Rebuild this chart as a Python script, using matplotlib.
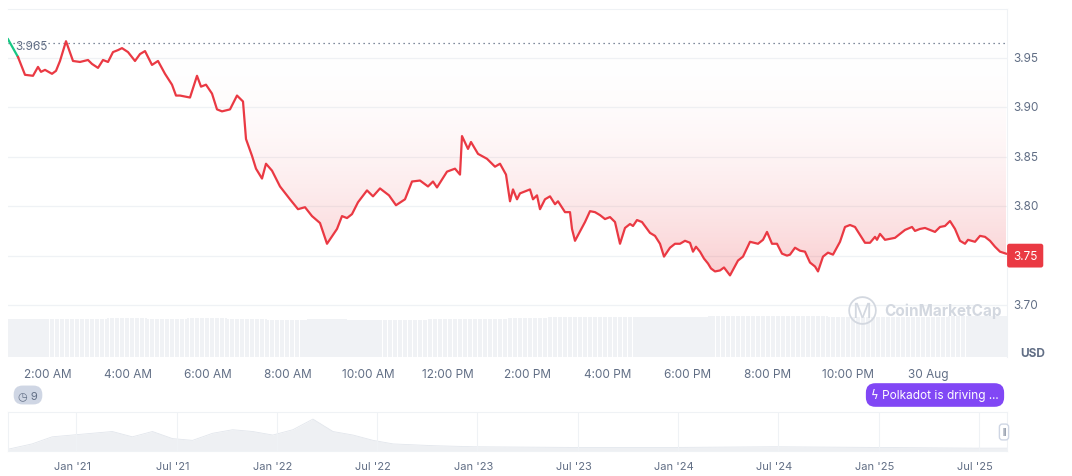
import numpy as np
import matplotlib
matplotlib.use("Agg")
import matplotlib.pyplot as plt
from matplotlib.patches import Polygon
from matplotlib.colors import LinearSegmentedColormap

hours = [0,.25,.425,.625,.75,.825,.925,1.1,1.2,1.3,1.45,1.625,1.8,2.0,2.1,2.25,2.375,2.5,2.625,2.75,2.85,3.0,3.175,3.3,3.425,3.6,3.75,3.925,4.1,4.2,4.3,4.55,4.725,4.825,4.95,5.1,5.225,5.35,5.55,5.725,5.875,5.95,6.1,6.2,6.35,6.45,6.6,6.8,7.05,7.25,7.425,7.6,7.8,7.975,8.125,8.225,8.35,8.475,8.6,8.75,8.975,9.125,9.3,9.525,9.7,9.925,10.1,10.3,10.5,10.625,10.725,10.975,11.175,11.3,11.35,11.5,11.575,11.75,11.975,12.175,12.3,12.45,12.55,12.625,12.725,12.8,13.05,13.125,13.225,13.3,13.425,13.55,13.675,13.75,13.925,14.05,14.1,14.175,14.425,14.55,14.675,14.8,14.925,15.05,15.175,15.3,15.425,15.55,15.625,15.725,15.85,16.05,16.175,16.3,16.4,16.55,16.675,16.8,16.925,17.05,17.125,17.2,17.3,17.4,17.5,17.575,17.675,17.8,17.9,18.05,18.25,18.375,18.55,18.75,18.875,18.975,19.1,19.225,19.35,19.475,19.55,19.675,19.8,19.925,20.05,20.175,20.25,20.375,20.5,20.625,20.8,20.925,21.05,21.175,21.425,21.55,21.675,21.725,21.8,21.925,22.175,22.3,22.425,22.6,22.675,22.8,22.925,23.05,23.175,23.3,23.425,23.55,23.675,23.8,23.925,24.0,24.175,24.3,24.425,24.55,24.675,24.8,24.95]
prices = [3.969,3.951,3.933,3.932,3.941,3.936,3.938,3.934,3.937,3.947,3.967,3.947,3.946,3.948,3.944,3.940,3.948,3.946,3.956,3.958,3.960,3.956,3.947,3.954,3.957,3.943,3.947,3.934,3.923,3.912,3.912,3.910,3.932,3.921,3.923,3.914,3.898,3.896,3.898,3.912,3.906,3.868,3.851,3.838,3.828,3.843,3.836,3.820,3.807,3.797,3.799,3.790,3.783,3.762,3.771,3.777,3.790,3.788,3.792,3.804,3.816,3.810,3.818,3.811,3.801,3.807,3.825,3.826,3.820,3.825,3.819,3.835,3.838,3.832,3.871,3.858,3.865,3.853,3.848,3.840,3.843,3.832,3.805,3.817,3.807,3.813,3.817,3.807,3.811,3.797,3.807,3.810,3.802,3.805,3.794,3.794,3.777,3.765,3.784,3.795,3.794,3.791,3.787,3.789,3.784,3.762,3.778,3.782,3.780,3.786,3.784,3.773,3.770,3.762,3.749,3.758,3.762,3.762,3.765,3.763,3.754,3.759,3.754,3.747,3.742,3.737,3.734,3.735,3.738,3.730,3.745,3.749,3.764,3.762,3.766,3.774,3.762,3.762,3.752,3.750,3.751,3.758,3.755,3.754,3.743,3.739,3.734,3.749,3.753,3.751,3.764,3.779,3.781,3.779,3.763,3.763,3.769,3.766,3.772,3.766,3.768,3.772,3.776,3.779,3.775,3.777,3.778,3.776,3.774,3.779,3.780,3.785,3.777,3.765,3.762,3.766,3.764,3.770,3.769,3.765,3.759,3.754,3.752]
ref_price = 3.965
last_price = 3.75
yticks = [3.70, 3.80, 3.85, 3.90, 3.95]
grid_y = [3.70, 3.75, 3.80, 3.85, 3.90, 3.95]
xtick_labels = ["2:00 AM","4:00 AM","6:00 AM","8:00 AM","10:00 AM","12:00 PM","2:00 PM","4:00 PM","6:00 PM","8:00 PM","10:00 PM","30 Aug"]
xtick_hours = [1,3,5,7,9,11,13,15,17,19,21,23]
vol_hours = list(range(26))
volume = [38,38,38,39,38,39,38,37,38,37,37,38,38,39,40,40,40,40,41,41,41,40,40,40,41,41]
nav_labels = ["Jan '21","Jul '21","Jan '22","Jul '22","Jan '23","Jul '23","Jan '24","Jul '24","Jan '25","Jul '25"]
nav_x = [0,.5,1,1.5,2,2.5,3,3.5,4,4.5]
nav_t = [-0.32,-0.2,-0.1,0,0.1,0.2,0.3,0.4,0.5,0.6,0.7,0.8,0.9,1.0,1.1,1.2,1.3,1.4,1.5,1.6,1.8,2.0,2.5,3.0,3.5,4.0,4.5,4.66]
nav_v = [0.05,0.2,0.4,0.45,0.5,0.55,0.4,0.55,0.35,0.3,0.5,0.6,0.55,0.45,0.6,0.9,0.55,0.45,0.3,0.2,0.15,0.12,0.1,0.1,0.12,0.1,0.08,0.08]

W, H = 1072, 477
fig = plt.figure(figsize=(W/100, H/100), dpi=100)
plt.rcParams['font.family'] = ['Inter', 'DejaVu Sans']
def fr(x0, y0, x1, y1):
    return [x0/W, 1-y1/H, (x1-x0)/W, (y1-y0)/H]

grey = '#616e85'
ax = fig.add_axes(fr(8, 10, 1007, 358))
ymin, ymax = 3.6474, 3.9996
xmax = 24.975
ax.set_xlim(0, xmax); ax.set_ylim(ymin, ymax)
for s in ax.spines.values(): s.set_visible(False)
ax.spines['top'].set_visible(True); ax.spines['top'].set_color('#eff2f5')
ax.spines['right'].set_visible(True); ax.spines['right'].set_color('#eff2f5')
for t in grid_y:
    ax.axhline(t, color='#eff2f5', lw=0.9, zorder=0)
ax.set_xticks([]); ax.set_yticks([])

vscale = (ymax - ymin) / 348.0
vx = np.linspace(0, xmax, 400)
ax.bar(vx, np.interp(vx, vol_hours, volume) * vscale,
       bottom=ymin, width=xmax/400*0.85, color='#f0f2f5', zorder=1)

grad = np.linspace(1, 0, 256).reshape(-1, 1)
cmap = LinearSegmentedColormap.from_list('g', [(1, 1, 1, 0.0), (0.92, 0.22, 0.26, 0.25)])
im = ax.imshow(grad, extent=[0, xmax, 3.728, ref_price], aspect='auto', cmap=cmap, origin='lower', zorder=2)
poly = Polygon(list(zip(hours, prices)) + [(hours[-1], ref_price), (0, ref_price)], closed=True, transform=ax.transData)
im.set_clip_path(poly)
ax.plot(hours[:2], prices[:2], color='#16c784', lw=1.6, zorder=4)
ax.plot(hours[1:], prices[1:], color='#ea3943', lw=1.6, zorder=4)
ax.axhline(ref_price, color='#58667e', lw=0.9, ls=(0, (1, 3)), zorder=3)
ax.text(0.18, ref_price - 0.003, '3.965', color=grey, fontsize=8.5, va='center', ha='left', zorder=5)
fig.text(884/W, 1-311/H, 'CoinMarketCap', fontsize=11, color='#d3d8e0', fontweight='bold', ha='left', va='center')
fig.text(862/W, 1-311/H, 'Ⓜ', fontsize=15, color='#d3d8e0', ha='center', va='center')

for t in yticks:
    ax.text(1.006, (t-ymin)/(ymax-ymin), f'{t:.2f}', transform=ax.transAxes, fontsize=8.5, color=grey, va='center')
fig.text(1020/W, 1-354/H, 'USD', fontsize=8.5, color=grey, fontweight='bold', va='center')
ax.text(1.006, (last_price-ymin)/(ymax-ymin), f'{last_price:.2f}', transform=ax.transAxes, fontsize=8.5,
        color='white', va='center', ha='left',
        bbox=dict(boxstyle='round,pad=0.5,rounding_size=0.2', fc='#ea3943', ec='none'))
for h, lab in zip(xtick_hours, xtick_labels):
    ax.text(h/xmax, -0.05, lab, transform=ax.transAxes, fontsize=8.5, color=grey, ha='center', va='center')

fig.text(28/W, 1-396/H, '◷ 9', fontsize=8, color=grey, ha='center', va='center',
         bbox=dict(boxstyle='round,pad=0.4,rounding_size=0.8', fc='#cfd6e4', ec='none'))
fig.text(935/W, 1-396/H, 'ϟ Polkadot is driving ...', fontsize=8.5, color='white', ha='center', va='center',
         bbox=dict(boxstyle='round,pad=0.45,rounding_size=0.8', fc='#8147f5', ec='none'))

nx = fig.add_axes(fr(8, 413, 1007, 452))
nx.set_xlim(-0.32, 4.66); nx.set_ylim(0, 1.1)
nx.fill_between(nav_t, nav_v, color='#eef0f3', lw=0)
nx.plot(nav_t, nav_v, color='#e2e6ec', lw=0.6)
for x in nav_x:
    nx.axvline(x + 0.02, color='#eff2f5', lw=0.8)
for s in nx.spines.values(): s.set_color('#eff2f5')
nx.set_xticks(nav_x); nx.set_xticklabels(nav_labels, fontsize=8, color=grey)
nx.tick_params(length=0, pad=7)
nx.set_yticks([])
fig.text(1004/W, 1-433/H, 'ǁ', fontsize=7, color=grey, ha='center', va='center',
         bbox=dict(boxstyle='round,pad=0.3', fc='white', ec='#cfd6e4'))

fig.savefig('out.png', dpi=100)
